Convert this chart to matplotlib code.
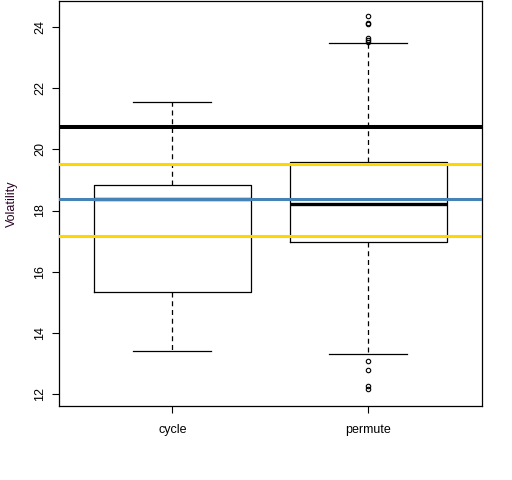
import matplotlib
matplotlib.use("Agg")
import matplotlib.pyplot as plt

plt.rcParams['font.family'] = ['Liberation Sans', 'DejaVu Sans']

# box statistics
groups = ["cycle", "permute"]
q1 = [15.33, 16.96]
med = [18.37, 18.20]
q3 = [18.82, 19.57]
whis_lo = [13.41, 13.31]
whis_hi = [21.53, 23.46]
fliers = [[], [24.36, 24.12, 24.09, 23.62, 23.56, 23.51, 13.08, 12.79, 12.28, 12.17]]

# reference lines
black_line = 20.72
gold_lines = [19.51, 17.16]
blue_line = 18.37

stats = []
for i, name in enumerate(groups):
    stats.append(dict(label=name, med=med[i], q1=q1[i], q3=q3[i],
                      whislo=whis_lo[i], whishi=whis_hi[i], fliers=fliers[i]))

fig = plt.figure(figsize=(5.12, 4.80), dpi=100)
ax = fig.add_axes([59 / 512, 1 - 406.3 / 480, (481.7 - 59) / 512, (406.3 - 1.3) / 480])

ax.bxp(stats, positions=[1, 2], widths=0.8, showfliers=True,
       boxprops=dict(color="black", linewidth=0.9),
       medianprops=dict(color="black", linewidth=2.4),
       whiskerprops=dict(color="black", linewidth=0.9, linestyle=(0, (4, 3))),
       capprops=dict(color="black", linewidth=0.9),
       flierprops=dict(marker="o", markersize=3.2, markerfacecolor="none",
                       markeredgecolor="black", markeredgewidth=0.8))

ax.axhline(black_line, color="black", linewidth=2.9, zorder=3)
for g in gold_lines:
    ax.axhline(g, color="#ffd700", linewidth=2.2, zorder=3)
ax.axhline(blue_line, color="#4682b4", linewidth=2.2, zorder=3)

ax.set_xlim(0.422, 2.579)
ax.set_ylim(11.61, 24.83)
ax.set_yticks([12, 14, 16, 18, 20, 22, 24])
ax.set_xticks([1, 2])
ax.set_xticklabels(groups)
for lbl in ax.get_yticklabels():
    lbl.set_rotation(90)
    lbl.set_va("center")
ax.tick_params(axis="both", labelsize=9, length=5, width=0.8, pad=4)
ax.tick_params(axis="x", pad=8)
ax.set_ylabel("Volatility", fontsize=9, color="#2a0025", labelpad=12)
for s in ax.spines.values():
    s.set_linewidth(0.9)

fig.savefig("out.png", dpi=100)
